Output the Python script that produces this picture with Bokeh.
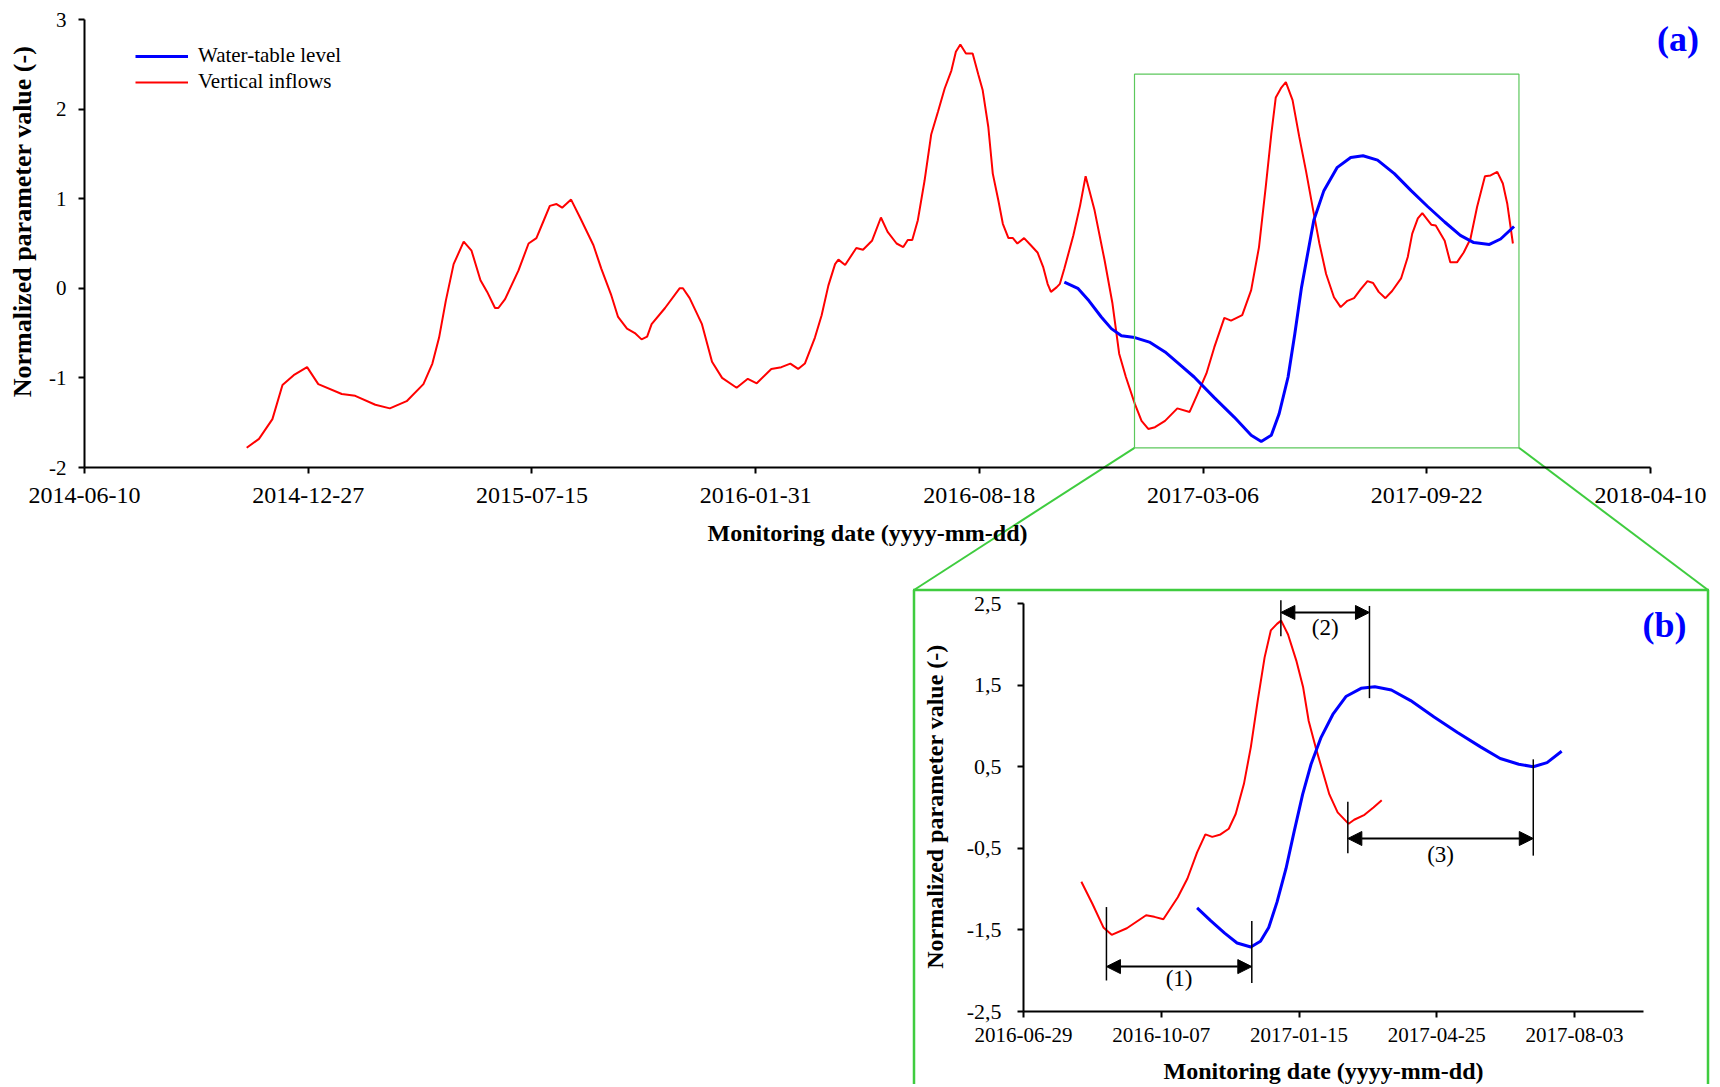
from datetime import date
from math import pi

from bokeh.embed import file_html
from bokeh.models import (Arrow, BoxAnnotation, DatetimeAxis, DatetimeTickFormatter,
                          FixedTicker, Grid, Label, Legend, LegendItem, LinearAxis,
                          NormalHead, Range1d)
from bokeh.plotting import figure
from bokeh.resources import INLINE

# ----------------------------------------------------------------- data
main_start = "2014-06-10"
main_end = "2018-04-10"
main_x_tick_labels = ["2014-06-10", "2014-12-27", "2015-07-15", "2016-01-31",
                      "2016-08-18", "2017-03-06", "2017-09-22", "2018-04-10"]
main_y_ticks = [-2, -1, 0, 1, 2, 3]

# Vertical inflows (days after main_start, normalized value)
inflow_day = [145, 156, 168, 177, 187, 199, 209, 230, 242, 260, 273, 288, 303, 311, 317,
              323, 330, 339, 346, 354, 360, 367, 370, 376, 388, 397, 404, 410, 416, 422,
              427, 435, 443, 455, 462, 471, 477, 485, 492, 498, 503, 507, 519, 532, 535,
              541, 552, 561, 570, 583, 593, 601, 614, 623, 631, 638, 644, 653, 659, 665,
              671, 674, 680, 690, 696, 704, 712, 718, 726, 732, 736, 740, 745, 751, 757,
              763, 769, 775, 779, 783, 788, 794, 799, 803, 808, 812, 817, 821, 826, 830,
              834, 840, 846, 852, 857, 861, 864, 869, 872, 876, 884, 890, 895, 903, 912,
              919, 925, 931, 939, 945, 951, 957, 966, 977, 988, 995, 1003, 1010, 1019, 1025,
              1035, 1043, 1050, 1056, 1061, 1065, 1070, 1074, 1080, 1086, 1092, 1098, 1104,
              1110, 1117, 1123, 1129, 1135, 1141, 1147, 1152, 1157, 1163, 1169, 1177, 1183,
              1187, 1192, 1196, 1204, 1208, 1216, 1221, 1227, 1233, 1239, 1245, 1252, 1257,
              1263, 1268, 1272, 1277]
inflow_value = [-1.78, -1.68, -1.46, -1.08, -0.97, -0.88, -1.07, -1.18, -1.20, -1.30, -1.34,
                -1.26, -1.07, -0.84, -0.55, -0.14, 0.27, 0.52, 0.42, 0.09, -0.04, -0.22, -0.22,
                -0.12, 0.20, 0.50, 0.56, 0.74, 0.92, 0.94, 0.90, 0.99, 0.79, 0.48, 0.22, -0.08,
                -0.32, -0.45, -0.50, -0.57, -0.54, -0.40, -0.22, 0.00, 0.00, -0.11, -0.40,
                -0.82, -1.00, -1.11, -1.01, -1.06, -0.90, -0.88, -0.84, -0.90, -0.84, -0.55,
                -0.30, 0.03, 0.27, 0.32, 0.26, 0.45, 0.43, 0.53, 0.79, 0.63, 0.50, 0.46, 0.54,
                0.54, 0.76, 1.20, 1.72, 1.97, 2.23, 2.43, 2.64, 2.72, 2.62, 2.62, 2.39, 2.21,
                1.80, 1.28, 0.98, 0.72, 0.56, 0.56, 0.50, 0.56, 0.48, 0.40, 0.24, 0.05, -0.04,
                0.01, 0.05, 0.22, 0.59, 0.92, 1.25, 0.87, 0.31, -0.17, -0.73, -0.99, -1.29,
                -1.48, -1.57, -1.55, -1.48, -1.34, -1.38, -1.18, -0.95, -0.66, -0.33, -0.36,
                -0.30, -0.02, 0.46, 1.13, 1.72, 2.13, 2.24, 2.30, 2.10, 1.69, 1.31, 0.90, 0.50,
                0.16, -0.10, -0.21, -0.14, -0.11, -0.01, 0.08, 0.06, -0.04, -0.11, -0.03, 0.11,
                0.35, 0.61, 0.78, 0.84, 0.71, 0.70, 0.53, 0.29, 0.29, 0.40, 0.55, 0.91, 1.25,
                1.26, 1.30, 1.17, 0.94, 0.50]

# Water-table level (days after main_start, normalized value)
wtl_day = [876, 888, 898, 909, 918, 927, 939, 952, 966, 980, 992, 1010, 1028, 1043, 1052,
           1061, 1068, 1076, 1082, 1088, 1094, 1099, 1108, 1120, 1132, 1143, 1156, 1171, 1186,
           1201, 1216, 1230, 1242, 1256, 1266, 1278]
wtl_value = [0.07, 0.00, -0.14, -0.32, -0.45, -0.53, -0.55, -0.60, -0.71, -0.86, -0.99, -1.22,
             -1.44, -1.64, -1.71, -1.64, -1.40, -0.99, -0.51, 0.01, 0.42, 0.76, 1.09, 1.35,
             1.46, 1.48, 1.43, 1.28, 1.09, 0.91, 0.74, 0.59, 0.51, 0.49, 0.55, 0.69]

# highlighted window in panel (a)
zoom_window_day = [938.7, 1282.4]
zoom_window_value = [-1.78, 2.39]

inset_start = "2016-06-29"
inset_end = "2017-09-22"
inset_x_tick_labels = ["2016-06-29", "2016-10-07", "2017-01-15", "2017-04-25", "2017-08-03"]
inset_y_ticks = [-2.5, -1.5, -0.5, 0.5, 1.5, 2.5]
inset_y_tick_labels = ["-2,5", "-1,5", "-0,5", "0,5", "1,5", "2,5"]

# panel (b) curves (days after inset_start)
inset_inflow_day = [42, 50, 58, 64, 75, 89, 95, 101.5, 112, 119, 126, 132, 137, 143, 149, 154,
                    160, 165, 170, 175, 179.5, 184, 187, 192, 198, 203, 207, 212, 217, 222,
                    228, 236, 240, 247.5, 254, 260]
inset_inflow_value = [-0.91, -1.18, -1.47, -1.56, -1.48, -1.32, -1.34, -1.37, -1.10, -0.87,
                      -0.55, -0.33, -0.36, -0.33, -0.26, -0.08, 0.29, 0.74, 1.31, 1.84, 2.17,
                      2.25, 2.29, 2.12, 1.80, 1.47, 1.06, 0.74, 0.45, 0.16, -0.06, -0.20, -0.15,
                      -0.09, 0.00, 0.09]
inset_wtl_day = [126, 136, 146, 155, 165, 172, 178, 184, 190.5, 196.5, 202.6, 208.7, 216, 224.5,
                 234, 245, 255, 267, 281, 298, 315, 332, 346, 359.5, 370, 380, 390.6]
inset_wtl_value = [-1.23, -1.39, -1.54, -1.66, -1.71, -1.64, -1.47, -1.16, -0.75, -0.29, 0.16,
                   0.53, 0.86, 1.14, 1.36, 1.46, 1.48, 1.44, 1.31, 1.11, 0.92, 0.74, 0.60, 0.53,
                   0.50, 0.55, 0.69]

# lag markers in panel (b)
lag_names = ["(1)", "(2)", "(3)"]
lag_from_day = [60.2, 186.8, 235.4]
lag_to_day = [165.7, 251.1, 370.0]
lag_arrow_value = [-1.95, 2.39, -0.38]
lag_from_span = [(-1.22, -2.12), (2.54, 2.10), (0.07, -0.56)]
lag_to_span = [(-1.39, -2.15), (2.47, 1.34), (0.59, -0.59)]
lag_label_value = [-2.10, 2.21, -0.57]

# ----------------------------------------------------------------- helpers
MS_DAY = 86_400_000.0


def day_ms(s):
    return (date.fromisoformat(s) - date(1970, 1, 1)).days * MS_DAY


main_t0, main_t1 = day_ms(main_start), day_ms(main_end)
inset_t0, inset_t1 = day_ms(inset_start), day_ms(inset_end)

# layout in page pixels: the whole canvas is one frame, both panels are placed inside it
PAGE = 0
FIG_W, FIG_H = 1712, 1084
MF = dict(left=84, right=1650, top=19, bottom=467)       # frame of panel (a)
IF = dict(left=1023, right=1643, top=603, bottom=1011)   # frame of panel (b)
GREEN = "#3fcc3f"
SERIF = "Liberation Serif"


def main_x(px):
    return main_t0 + (px - MF["left"]) / (MF["right"] - MF["left"]) * (main_t1 - main_t0)


def main_y(py):
    return 3 - (py - MF["top"]) / (MF["bottom"] - MF["top"]) * 5


def inset_x(px):
    return inset_t0 + (px - IF["left"]) / (IF["right"] - IF["left"]) * (inset_t1 - inset_t0)


def inset_y(py):
    return 2.5 - (py - IF["top"]) / (IF["bottom"] - IF["top"]) * 5


DATEFMT = "%Y-%m-%d"


def date_formatter():
    return DatetimeTickFormatter(microseconds=DATEFMT, milliseconds=DATEFMT, seconds=DATEFMT,
                                 minsec=DATEFMT, minutes=DATEFMT, hourmin=DATEFMT, hours=DATEFMT,
                                 days=DATEFMT, months=DATEFMT, years=DATEFMT)


def style_axis(ax, label_size, standoff):
    ax.axis_line_color = "black"
    ax.axis_line_width = 2
    ax.major_tick_line_color = "black"
    ax.major_tick_line_width = 2
    ax.major_tick_in = 0
    ax.major_tick_out = 6
    ax.minor_tick_line_color = None
    ax.major_label_text_color = "black"
    ax.major_label_text_font = SERIF
    ax.major_label_text_font_size = label_size
    ax.major_label_standoff = standoff


p = figure(width=FIG_W, height=FIG_H,
           x_range=Range1d(main_x(PAGE), main_x(PAGE + FIG_W)),
           y_range=Range1d(main_y(PAGE + FIG_H), main_y(PAGE)),
           x_axis_location=None, y_axis_location=None,
           output_backend="svg", toolbar_location=None,
           min_border_left=0, min_border_right=0, min_border_top=0, min_border_bottom=0)
p.center = [r for r in p.center if not isinstance(r, Grid)]
p.outline_line_color = None
p.extra_x_ranges = {"inset_x": Range1d(inset_x(PAGE), inset_x(PAGE + FIG_W))}
p.extra_y_ranges = {"inset_y": Range1d(inset_y(PAGE + FIG_H), inset_y(PAGE))}
IR = dict(x_range_name="inset_x", y_range_name="inset_y")

# ----------------------------------------------------------------- panel (a)
ax_a_x = DatetimeAxis(fixed_location=-2, bounds=(main_t0, main_t1),
                      ticker=FixedTicker(ticks=[day_ms(s) for s in main_x_tick_labels]),
                      formatter=date_formatter())
style_axis(ax_a_x, "24px", 14)
p.add_layout(ax_a_x, "below")
ax_a_y = LinearAxis(fixed_location=main_t0, bounds=(-2, 3),
                    ticker=FixedTicker(ticks=main_y_ticks),
                    major_label_overrides={v: str(v) for v in main_y_ticks})
style_axis(ax_a_y, "21px", 12)
p.add_layout(ax_a_y, "left")

r_red = p.line([main_t0 + d * MS_DAY for d in inflow_day], inflow_value,
               line_color="#ff0000", line_width=2)
r_blue = p.line([main_t0 + d * MS_DAY for d in wtl_day], wtl_value,
                line_color="#0000ff", line_width=3)

legend = Legend(items=[LegendItem(label="Water-table level", renderers=[r_blue]),
                       LegendItem(label="Vertical inflows", renderers=[r_red])],
                location=(135 - PAGE, PAGE + FIG_H - 94), margin=0, padding=0, spacing=1,
                glyph_width=53, glyph_height=24, label_height=24, label_standoff=10,
                label_text_font=SERIF, label_text_font_size="21px", label_text_color="black",
                border_line_color=None, background_fill_alpha=0)
p.add_layout(legend)

p.add_layout(Label(x=main_x(867), y=main_y(532), text="Monitoring date (yyyy-mm-dd)",
                   text_align="center", text_baseline="middle", text_font=SERIF,
                   text_font_style="bold", text_font_size="24px", text_color="black"))
p.add_layout(Label(x=main_x(22), y=main_y(221), text="Normalized parameter value (-)",
                   angle=pi / 2, text_align="center", text_baseline="middle", text_font=SERIF,
                   text_font_style="bold", text_font_size="26px", text_color="black"))
p.add_layout(Label(x=main_x(1677.5), y=main_y(38.5), text="(a)", text_align="center",
                   text_baseline="middle", text_font=SERIF, text_font_style="bold",
                   text_font_size="36px", text_color="#0000ff"))

# zoom window and connectors to panel (b)
zl = main_t0 + zoom_window_day[0] * MS_DAY
zr = main_t0 + zoom_window_day[1] * MS_DAY
p.add_layout(BoxAnnotation(left=zl, right=zr, bottom=zoom_window_value[0],
                           top=zoom_window_value[1], fill_alpha=0, line_color="#5cc85c",
                           line_alpha=1, line_width=1.2))
box_l, box_r, box_t = 913.5, 1707.5, 589.5
p.segment(x0=[zl, zr], y0=[zoom_window_value[0]] * 2,
          x1=[main_x(box_l), main_x(box_r)], y1=[main_y(box_t)] * 2,
          line_color=GREEN, line_width=2)
# box around panel (b)
p.segment(x0=[main_x(box_l), main_x(box_l - 1), main_x(box_r)],
          y0=[main_y(box_t), main_y(box_t), main_y(box_t)],
          x1=[main_x(box_l), main_x(box_r + 1), main_x(box_r)],
          y1=[main_y(PAGE + FIG_H + 5), main_y(box_t), main_y(PAGE + FIG_H + 5)],
          line_color=GREEN, line_width=2.5)

# ----------------------------------------------------------------- panel (b)
ax_b_x = DatetimeAxis(fixed_location=-2.5, bounds=(inset_t0, inset_t1),
                      ticker=FixedTicker(ticks=[day_ms(s) for s in inset_x_tick_labels]),
                      formatter=date_formatter(), **IR)
style_axis(ax_b_x, "21px", 10)
p.add_layout(ax_b_x, "below")
ax_b_y = LinearAxis(fixed_location=inset_t0, bounds=(-2.5, 2.5),
                    ticker=FixedTicker(ticks=inset_y_ticks),
                    major_label_overrides=dict(zip(inset_y_ticks, inset_y_tick_labels)), **IR)
style_axis(ax_b_y, "22px", 16)
p.add_layout(ax_b_y, "left")

p.line([inset_t0 + d * MS_DAY for d in inset_inflow_day], inset_inflow_value,
       line_color="#ff0000", line_width=2, **IR)
p.line([inset_t0 + d * MS_DAY for d in inset_wtl_day], inset_wtl_value,
       line_color="#0000ff", line_width=3, **IR)

for name, d0, d1, av, s0, s1, lv in zip(lag_names, lag_from_day, lag_to_day, lag_arrow_value,
                                        lag_from_span, lag_to_span, lag_label_value):
    x0 = inset_t0 + d0 * MS_DAY
    x1 = inset_t0 + d1 * MS_DAY
    p.segment(x0=[x0, x1], y0=[s0[0], s1[0]], x1=[x0, x1], y1=[s0[1], s1[1]],
              line_color="black", line_width=1.5, **IR)
    p.add_layout(Arrow(start=NormalHead(size=14, fill_color="black", line_color="black"),
                       end=NormalHead(size=14, fill_color="black", line_color="black"),
                       x_start=x0, y_start=av, x_end=x1, y_end=av,
                       line_color="black", line_width=2, **IR))
    p.add_layout(Label(x=(x0 + x1) / 2, y=lv, text=name, text_align="center",
                       text_baseline="middle", text_font=SERIF, text_font_size="23px",
                       text_color="black", **IR))

p.add_layout(Label(x=inset_x(1323), y=inset_y(1070), text="Monitoring date (yyyy-mm-dd)",
                   text_align="center", text_baseline="middle", text_font=SERIF,
                   text_font_style="bold", text_font_size="24px", text_color="black", **IR))
p.add_layout(Label(x=inset_x(934), y=inset_y(806), text="Normalized parameter value (-)",
                   angle=pi / 2, text_align="center", text_baseline="middle", text_font=SERIF,
                   text_font_style="bold", text_font_size="24px", text_color="black", **IR))
p.add_layout(Label(x=inset_x(1664), y=inset_y(624), text="(b)", text_align="center",
                   text_baseline="middle", text_font=SERIF, text_font_style="bold",
                   text_font_size="36px", text_color="#0000ff", **IR))

open("out.html", "w").write(file_html(p, INLINE))
